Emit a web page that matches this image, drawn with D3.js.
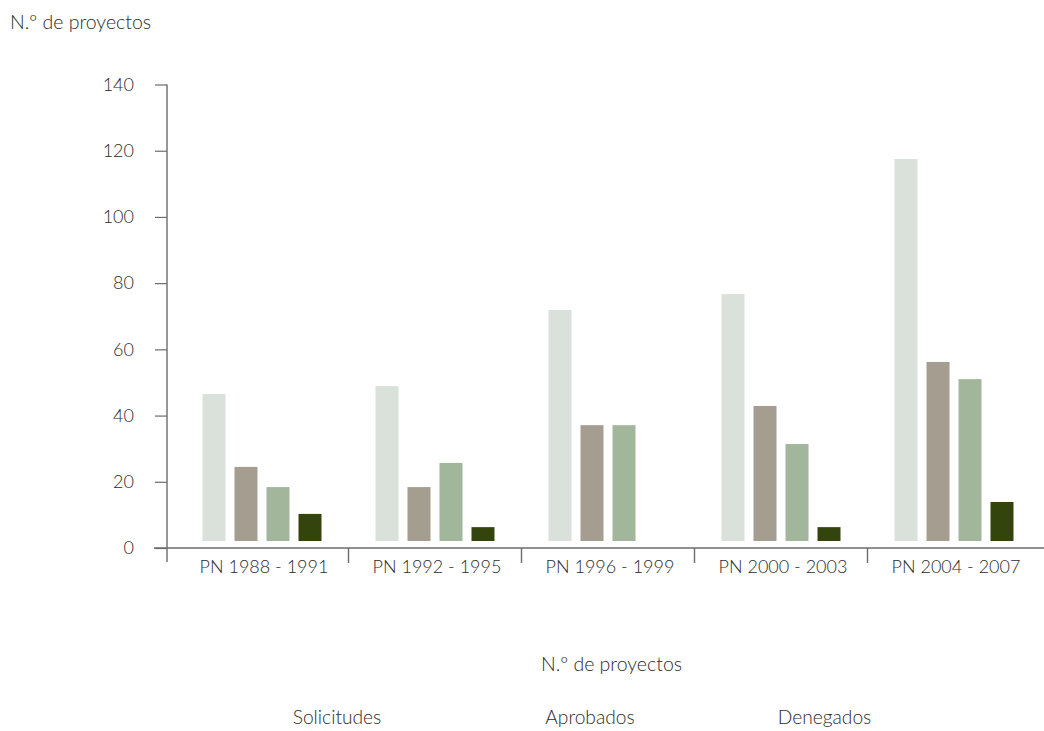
<!DOCTYPE html>
<html>
<head>
<meta charset="utf-8">
<script src="https://cdn.jsdelivr.net/npm/d3@7"></script>
<style>
  html, body { margin: 0; padding: 0; background: #fff; }
  svg { display: block; font-family: Lato, "Open Sans", sans-serif; font-weight: 300; }
  text { fill: #2b2b2b; }
</style>
</head>
<body>
<svg id="chart" width="1044" height="731"></svg>
<script>
// Planes Nacionales (periods)
const periods = ["PN 1988 - 1991", "PN 1992 - 1995", "PN 1996 - 1999", "PN 2000 - 2003", "PN 2004 - 2007"];

// Number of projects per period
const solicitudes = [46.5, 48.9, 71.9, 76.7, 117.5];
const aprobados   = [24.5, 18.4, 37.1, 42.9, 56.2];
const denegados   = [18.4, 25.7, 37.1, 31.4, 51.0];
const otros       = [10.3, 6.3, 0, 6.3, 13.9];

const seriesNames = ["Solicitudes", "Aprobados", "Denegados", "Otros"];
const seriesValues = [solicitudes, aprobados, denegados, otros];
const legendLabels = ["Solicitudes", "Aprobados", "Denegados"];

const yTicks = [0, 20, 40, 60, 80, 100, 120, 140];

const colors = ["#d9e1da", "#a59d8f", "#a2b69b", "#33440c"];

const svg = d3.select("#chart");
const W = 1044;
const axisX = 167, y0px = 548, yTopPx = 84.5;

const y = d3.scaleLinear().domain([0, 140]).range([y0px, yTopPx]);
const x = d3.scaleBand().domain(periods).range([175.5, 1040.5]).padding(0);
const xs = d3.scalePoint().domain(seriesNames).range([-48, 48]);
const barW = 23;
const lift = 7; // bars sit slightly above the baseline

// Bars
const rows = periods.map((p, i) => seriesNames.map((s, j) => ({ p, s, j, v: seriesValues[j][i] })));
svg.append("g").selectAll("g").data(rows).join("g")
  .attr("transform", d => `translate(${x(d[0].p) + x.bandwidth() / 2},0)`)
  .selectAll("rect").data(d => d.filter(e => e.v > 0)).join("rect")
  .attr("x", d => xs(d.s) - barW / 2)
  .attr("width", barW)
  .attr("y", d => y(d.v))
  .attr("height", d => Math.max(0, y(0) - lift - y(d.v)))
  .attr("fill", d => colors[d.j]);

// Y axis
const yAxis = svg.append("g").attr("transform", `translate(${axisX},0)`)
  .call(d3.axisLeft(y).tickValues(yTicks).tickSize(12).tickPadding(21).tickFormat(d3.format("d")));
yAxis.select(".domain").remove();
yAxis.selectAll(".tick line").attr("stroke", "#6b6b6b").attr("stroke-width", 1.2);
yAxis.selectAll(".tick text").attr("font-size", 18).attr("fill", "#2b2b2b")
  .attr("font-family", "Lato, sans-serif").attr("font-weight", 300);
yAxis.append("line").attr("x1", 0).attr("x2", 0).attr("y1", y(140)).attr("y2", y0px + 14)
  .attr("stroke", "#6b6b6b").attr("stroke-width", 1.4);

// X axis
const xAxis = svg.append("g").attr("transform", `translate(0,${y0px})`);
xAxis.append("line").attr("x1", axisX - 13).attr("x2", W).attr("y1", 0).attr("y2", 0)
  .attr("stroke", "#6b6b6b").attr("stroke-width", 1.4);
xAxis.selectAll("line.sep").data(periods.slice(1)).join("line").attr("class", "sep")
  .attr("x1", d => x(d)).attr("x2", d => x(d)).attr("y1", 0).attr("y2", 15)
  .attr("stroke", "#6b6b6b").attr("stroke-width", 1.4);
xAxis.selectAll("text").data(periods).join("text")
  .attr("x", d => x(d) + x.bandwidth() / 2 + 2)
  .attr("y", 25)
  .attr("text-anchor", "middle")
  .attr("font-size", 18)
  .text(d => d);

// Titles
svg.append("text").attr("x", 10).attr("y", 29).attr("font-size", 19.5).text("N.º de proyectos");
svg.append("text").attr("x", 611.5).attr("y", 671).attr("text-anchor", "middle").attr("font-size", 19.5).text("N.º de proyectos");

// Legend labels
const legendX = [337, 590, 824.5];
svg.append("g").selectAll("text").data(legendLabels).join("text")
  .attr("x", (d, i) => legendX[i]).attr("y", 724)
  .attr("text-anchor", "middle").attr("font-size", 19.2)
  .text(d => d);
</script>
</body>
</html>
